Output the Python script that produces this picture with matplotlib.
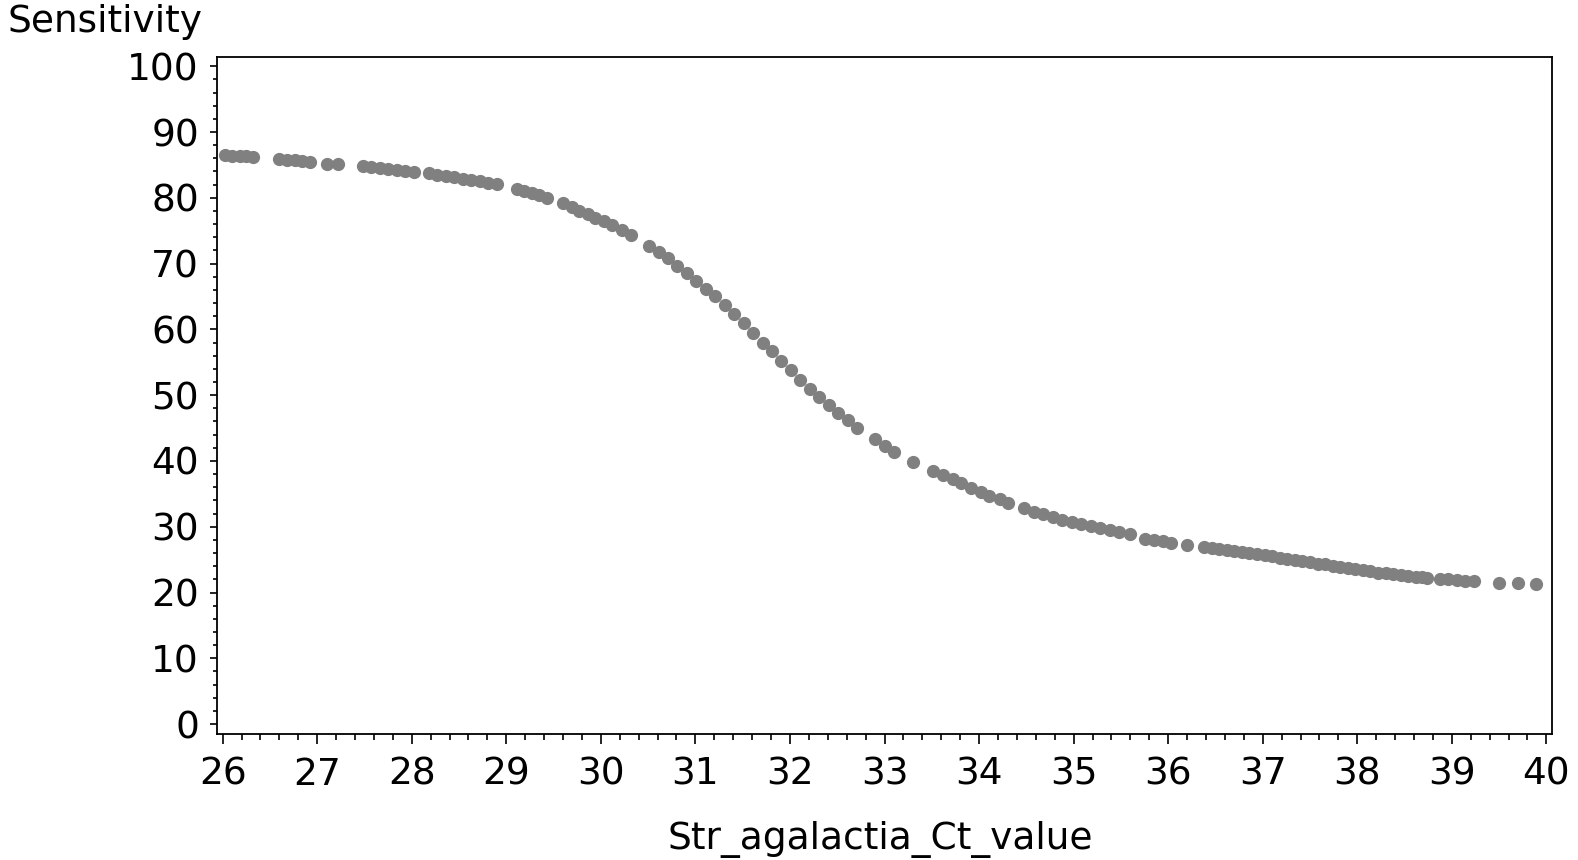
import matplotlib
matplotlib.use("Agg")
import matplotlib.pyplot as plt
from matplotlib.ticker import MultipleLocator

# Ct value (x) and sensitivity (y)
ct_value = [
    26.02, 26.10, 26.18, 26.25, 26.32,
    26.60, 26.68, 26.76, 26.84, 26.92,
    27.10, 27.22,
    27.48, 27.57, 27.66, 27.75, 27.84, 27.93, 28.02,
    28.18, 28.27, 28.36, 28.45, 28.54, 28.63, 28.72, 28.81, 28.90,
    29.11, 29.19, 29.27, 29.35, 29.43,
    29.60, 29.69, 29.77, 29.86, 29.94, 30.03, 30.12, 30.22, 30.32,
    30.51, 30.61, 30.71, 30.81, 30.91, 31.01, 31.11, 31.21, 31.31, 31.41, 31.51, 31.61,
    31.71, 31.81, 31.91, 32.01, 32.11, 32.21, 32.31, 32.41, 32.51, 32.61, 32.71,
    32.90, 33.01, 33.10,
    33.30,
    33.51, 33.62, 33.72, 33.81, 33.92, 34.02, 34.11, 34.22, 34.31,
    34.48, 34.58, 34.68, 34.78, 34.88, 34.98, 35.08, 35.18, 35.28, 35.38, 35.48, 35.60,
    35.75, 35.85, 35.95, 36.03,
    36.20,
    36.38, 36.46, 36.54, 36.62, 36.70, 36.78, 36.86, 36.94, 37.02, 37.10, 37.18, 37.26,
    37.34, 37.42, 37.50, 37.58, 37.66, 37.74, 37.82, 37.90, 37.98, 38.06, 38.14, 38.22,
    38.30, 38.38, 38.46, 38.54, 38.62, 38.68, 38.74,
    38.88, 38.96, 39.05, 39.14, 39.23,
    39.50, 39.70, 39.89,
]
sensitivity = [
    86.5, 86.4, 86.3, 86.3, 86.2,
    85.9, 85.8, 85.7, 85.6, 85.5,
    85.2, 85.1,
    84.8, 84.65, 84.5, 84.35, 84.2, 84.05, 83.9,
    83.7, 83.5, 83.3, 83.1, 82.9, 82.7, 82.5, 82.3, 82.1,
    81.4, 81.1, 80.8, 80.4, 80.0,
    79.2, 78.6, 78.0, 77.5, 76.9, 76.4, 75.8, 75.1, 74.4,
    72.6, 71.7, 70.8, 69.7, 68.6, 67.4, 66.2, 65.0, 63.7, 62.3, 60.9, 59.5,
    58.0, 56.7, 55.2, 53.8, 52.3, 51.0, 49.7, 48.5, 47.3, 46.2, 45.0,
    43.3, 42.2, 41.4,
    39.9,
    38.5, 37.8, 37.2, 36.6, 35.9, 35.3, 34.7, 34.2, 33.6,
    32.8, 32.3, 31.9, 31.5, 31.1, 30.7, 30.4, 30.1, 29.8, 29.5, 29.2, 28.9,
    28.2, 28.0, 27.8, 27.6,
    27.2,
    26.9, 26.7, 26.6, 26.4, 26.3, 26.1, 26.0, 25.8, 25.7, 25.5, 25.3, 25.1,
    25.0, 24.8, 24.6, 24.4, 24.3, 24.1, 23.9, 23.7, 23.6, 23.4, 23.2, 23.0,
    22.9, 22.8, 22.6, 22.5, 22.4, 22.3, 22.2,
    22.1, 22.0, 21.9, 21.8, 21.8,
    21.5, 21.4, 21.3,
]

plt.rcParams["font.family"] = ["DejaVu Sans"]
fs = 27

fig = plt.figure(figsize=(15.78, 8.6), dpi=100)
ax = fig.add_axes([217 / 1578, 1 - 734 / 860, (1552 - 217) / 1578, (734 - 57) / 860])

ax.plot(ct_value, sensitivity, "o", color="#808080", ms=8.5, mec="#808080", clip_on=False)

ax.set_xlim(25.94, 40.06)
ax.set_ylim(-1.5, 101.4)
ax.xaxis.set_major_locator(MultipleLocator(1))
ax.xaxis.set_minor_locator(MultipleLocator(0.2))
ax.yaxis.set_major_locator(MultipleLocator(10))
ax.yaxis.set_minor_locator(MultipleLocator(2))

for s in ax.spines.values():
    s.set_linewidth(1.3)
ax.tick_params(axis="x", which="major", length=7.5, width=1.2, pad=9, labelsize=fs)
ax.tick_params(axis="x", which="minor", length=4, width=1.2)
ax.tick_params(axis="y", which="major", length=5, width=1.2, pad=8, labelsize=fs)
ax.tick_params(axis="y", which="minor", length=3, width=1.2)

fig.text(880 / 1578, 1 - 840 / 860, "Str_agalactia_Ct_value", fontsize=fs,
         ha="center", va="center")
fig.text(8 / 1578, 1 - 22 / 860, "Sensitivity", fontsize=fs, ha="left", va="center")

fig.savefig("out.png", dpi=100)
